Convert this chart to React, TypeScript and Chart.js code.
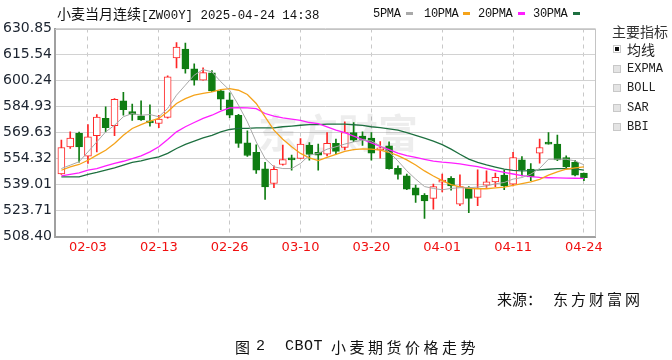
import React, { useEffect, useRef } from 'react';
import { Chart, registerables } from 'chart.js';

Chart.register(...registerables);

// ---------- data ----------
const dates = [
  '01-29', '01-30', '01-31', '02-03', '02-04', '02-05', '02-06', '02-07', '02-10', '02-11',
  '02-12', '02-13', '02-14', '02-18', '02-19', '02-20', '02-21', '02-24', '02-25', '02-26',
  '02-27', '02-28', '03-03', '03-04', '03-05', '03-06', '03-07', '03-10', '03-11', '03-12',
  '03-13', '03-14', '03-17', '03-18', '03-19', '03-20', '03-21', '03-24', '03-25', '03-26',
  '03-27', '03-28', '03-31', '04-01', '04-02', '04-03', '04-04', '04-07', '04-08', '04-09',
  '04-10', '04-11', '04-14', '04-15', '04-16', '04-17', '04-21', '04-22', '04-23', '04-24',
];
const tickDates = ['02-03', '02-13', '02-26', '03-10', '03-20', '04-01', '04-11', '04-24'];
const yTickLabels = ['508.40', '523.71', '539.01', '554.32', '569.63', '584.93', '600.24', '615.54', '630.85'];

const openP = [
  545.3, 561.2, 569.2, 555.7, 567.7, 577.9, 573.6, 588.3, 582.0, 579.4,
  576.5, 574.9, 578.5, 613.6, 618.7, 607.1, 600.4, 604.8, 594.2, 588.9,
  579.8, 563.5, 557.9, 548.2, 539.6, 550.8, 554.3, 554.3, 562.2, 557.9,
  556.9, 563.2, 560.8, 569.6, 567.5, 566.3, 559.4, 561.8, 548.6, 544.1,
  537.1, 532.7, 530.8, 540.4, 542.6, 527.4, 537.3, 531.4, 538.6, 540.6,
  544.5, 539.2, 553.5, 548.1, 557.5, 563.2, 562.8, 554.9, 552.0, 545.7,
];
const closeP = [
  560.8, 566.3, 561.2, 567.1, 578.7, 572.4, 589.1, 583.0, 580.2, 577.1,
  575.3, 577.5, 602.4, 619.9, 607.1, 600.4, 604.9, 594.2, 589.3, 579.8,
  563.2, 556.1, 547.5, 537.6, 547.9, 553.7, 553.5, 562.8, 556.7, 556.3,
  563.2, 558.5, 569.6, 565.1, 565.5, 557.5, 560.2, 548.4, 544.9, 536.3,
  532.7, 529.4, 537.8, 541.2, 538.2, 537.8, 530.8, 536.7, 540.6, 543.3,
  538.2, 554.9, 547.7, 543.5, 560.8, 562.8, 553.5, 549.4, 544.5, 543.1,
];
const highP = [
  565.1, 570.0, 569.8, 574.3, 580.2, 584.7, 589.6, 593.2, 586.3, 588.3,
  585.9, 579.8, 603.0, 622.6, 622.2, 610.1, 607.7, 606.1, 594.9, 593.0,
  580.3, 570.6, 562.4, 552.0, 550.0, 562.2, 556.3, 566.1, 563.7, 562.8,
  569.6, 565.7, 575.9, 575.5, 570.0, 569.6, 564.3, 564.1, 550.0, 545.1,
  538.6, 533.7, 539.2, 545.1, 543.7, 544.7, 537.8, 547.7, 547.1, 545.7,
  547.5, 557.9, 555.5, 551.4, 565.7, 569.6, 568.1, 555.9, 553.3, 545.7,
];
const lowP = [
  544.9, 560.2, 552.2, 551.4, 558.2, 570.0, 567.7, 579.8, 576.7, 576.7,
  573.4, 572.4, 578.1, 607.7, 604.6, 597.5, 600.4, 593.6, 583.0, 578.3,
  560.8, 555.5, 545.5, 530.2, 537.1, 550.4, 547.5, 554.3, 553.3, 547.5,
  555.9, 556.9, 559.4, 564.3, 562.0, 553.3, 554.5, 548.1, 542.2, 535.9,
  528.4, 519.0, 524.5, 534.7, 535.7, 526.5, 522.5, 526.5, 537.3, 537.8,
  535.9, 538.2, 544.1, 541.2, 551.6, 562.8, 553.0, 548.1, 544.1, 541.2,
];

const ma5 = [
  548.4, 550.4, 552.4, 558.2, 564.1, 570.0, 573.9, 578.9, 580.8, 579.8,
  580.2, 578.9, 583.8, 591.6, 597.5, 603.4, 606.7, 605.3, 599.5, 594.5,
  585.7, 575.9, 564.1, 554.3, 549.4, 548.4, 548.4, 551.4, 556.3, 557.3,
  559.8, 561.2, 562.8, 564.1, 565.1, 564.7, 561.8, 558.2, 552.9, 547.1,
  542.2, 537.8, 536.7, 535.9, 536.7, 537.1, 537.1, 537.5, 538.2, 539.4,
  540.2, 542.2, 543.1, 545.1, 548.5, 553.9, 553.9, 553.9, 552.9, 550.6,
];
const ma10 = [
  547.4, 549.4, 550.8, 553.3, 556.3, 559.2, 563.2, 568.0, 572.0, 574.3,
  576.3, 577.9, 581.8, 586.7, 589.6, 591.6, 592.6, 593.6, 594.9, 595.5,
  594.5, 592.0, 586.7, 578.8, 571.0, 565.7, 561.2, 557.3, 554.7, 553.1,
  555.0, 556.8, 558.5, 559.6, 560.0, 559.8, 559.3, 558.0, 556.0, 553.5,
  550.5, 547.0, 544.0, 541.3, 539.0, 537.6, 536.8, 536.5, 536.5, 537.0,
  537.5, 538.5, 539.5, 540.5, 542.0, 544.5, 546.5, 548.0, 548.8, 549.4,
];
const ma20 = [
  544.1, 545.0, 545.9, 547.5, 548.4, 550.0, 551.4, 552.7, 554.3, 555.9,
  558.2, 561.2, 565.5, 570.0, 573.0, 575.5, 577.9, 579.8, 582.2, 584.1,
  584.3, 584.1, 583.7, 580.8, 579.2, 578.2, 577.5, 576.7, 575.5, 574.9,
  573.0, 571.0, 569.5, 567.5, 565.5, 563.5, 561.5, 559.5, 557.5, 556.0,
  555.0, 553.8, 552.8, 552.2, 551.8, 551.2, 550.3, 549.5, 548.3, 547.2,
  546.1, 545.2, 544.2, 543.6, 543.2, 543.0, 542.9, 542.8, 542.7, 542.6,
];
const ma30 = [
  543.5, 543.5, 543.5, 545.0, 546.1, 547.5, 548.8, 550.4, 552.0, 552.9,
  554.3, 555.3, 557.3, 560.2, 562.6, 564.5, 566.5, 568.0, 570.0, 571.4,
  572.0, 572.0, 572.4, 572.4, 572.4, 573.0, 573.4, 573.9, 574.3, 574.3,
  574.5, 574.6, 574.5, 574.2, 573.8, 573.0, 572.5, 571.8, 571.0, 569.5,
  568.0, 566.3, 564.5, 562.5, 559.8, 556.8, 554.0, 552.0, 550.5, 549.3,
  548.0, 547.3, 547.0, 547.2, 547.6, 548.0, 548.3, 548.4, 548.2, 547.5,
];

const maNames = ['5PMA', '10PMA', '20PMA', '30PMA'];
const maColors = ['#a9a9a9', '#f5a31a', '#ff1eff', '#1e7040'];
const maSeries = [ma5, ma10, ma20, ma30];

const indicatorItems = ['均线', 'EXPMA', 'BOLL', 'SAR', 'BBI'];

const RED = '#ff2626';
const GREEN = '#0f7d12';
const CJK = '"Noto Sans CJK SC", sans-serif';
const MONO = '"Liberation Mono", "DejaVu Sans Mono", monospace';

export default function App() {
  const canvasRef = useRef<HTMLCanvasElement | null>(null);

  useEffect(() => {
    document.body.style.margin = '0';
    const canvas = canvasRef.current;
    if (!canvas) return;
    const up = closeP.map((c, i) => c >= openP[i]);

    const frame = {
      id: 'frame',
      beforeDatasetsDraw(chart: any) {
        const { ctx, chartArea } = chart;
        ctx.save();
        // watermark
        ctx.font = 'bold 40px "Noto Sans CJK SC"';
        ctx.fillStyle = 'rgba(0,0,0,0.07)';
        ctx.textBaseline = 'alphabetic';
        ctx.fillText('东方财富', 258, 148);
        // top & right borders
        ctx.strokeStyle = '#c4c4c4';
        ctx.lineWidth = 1;
        ctx.beginPath();
        ctx.moveTo(chartArea.left, Math.round(chartArea.top) + 0.5);
        ctx.lineTo(chartArea.right, Math.round(chartArea.top) + 0.5);
        ctx.moveTo(Math.round(chartArea.right) + 0.5, chartArea.top);
        ctx.lineTo(Math.round(chartArea.right) + 0.5, chartArea.bottom);
        ctx.stroke();
        ctx.restore();
      },
    };

    const lineSets = maSeries.map((arr, k) => ({
      type: 'line' as const,
      data: arr.map((v, i) => ({ x: i, y: v })),
      borderColor: maColors[k],
      borderWidth: k === 0 ? 1 : 1.3,
      pointRadius: 0,
      tension: 0,
      fill: false,
      order: 0,
    }));

    const chart = new Chart(canvas, {
      type: 'bar',
      data: {
        datasets: [
          ...lineSets,
          {
            type: 'bar',
            data: dates.map((_, i) => ({ x: i, y: [openP[i], closeP[i]] })) as any,
            backgroundColor: up.map((u) => (u ? '#ffffff' : GREEN)),
            borderColor: up.map((u) => (u ? RED : GREEN)),
            borderWidth: 1,
            borderSkipped: false,
            barThickness: 7,
            minBarLength: 2,
            grouped: false,
            order: 1,
          } as any,
          {
            type: 'bar',
            data: dates.map((_, i) => ({ x: i, y: [lowP[i], highP[i]] })) as any,
            backgroundColor: up.map((u) => (u ? RED : GREEN)),
            borderWidth: 0,
            barThickness: 1,
            grouped: false,
            order: 2,
          } as any,
        ],
      },
      options: {
        animation: false,
        responsive: false,
        maintainAspectRatio: false,
        events: [],
        layout: { padding: { left: 0, top: 28.5, right: 77, bottom: 103.5 } },
        plugins: { legend: { display: false }, tooltip: { enabled: false }, title: { display: false } },
        scales: {
          x: {
            type: 'linear',
            offset: false,
            min: -0.72,
            max: 60.25,
            afterBuildTicks: (scale: any) => {
              scale.ticks = tickDates.map((d) => ({ value: dates.indexOf(d) }));
            },
            afterFit: (scale: any) => {
              scale.height = 20;
            },
            ticks: {
              autoSkip: false,
              maxRotation: 0,
              padding: 3,
              color: '#f01010',
              font: { family: 'DejaVu Sans', size: 13 },
              callback: (v: any) => dates[Math.round(Number(v))] ?? '',
            },
            grid: { color: '#c8c8c8', lineWidth: 1, drawTicks: false, offset: false },
            border: { display: true, color: '#a0a0a0', width: 2, dash: [4, 4] },
          },
          y: {
            type: 'linear',
            min: 508.4,
            max: 630.85,
            afterBuildTicks: (scale: any) => {
              scale.ticks = yTickLabels.map((s) => ({ value: parseFloat(s) }));
            },
            afterFit: (scale: any) => {
              scale.width = 55;
            },
            ticks: {
              padding: 3,
              color: '#1c2430',
              font: { family: 'DejaVu Sans', size: 14 },
              callback: (v: any) => {
                const hit = yTickLabels.find((s) => Math.abs(parseFloat(s) - Number(v)) < 0.01);
                return hit ?? '';
              },
            },
            grid: { color: '#d2d2d2', lineWidth: 1, drawTicks: false },
            border: { display: true, color: '#a0a0a0', width: 2 },
          },
        },
      } as any,
      plugins: [frame],
    });
    return () => chart.destroy();
  }, []);

  const legendLeft = [373, 424, 478, 533];
  const legendDash = [406, 463, 518, 573];

  return (
    <div style={{ position: 'fixed', left: 0, top: 0, width: 672, height: 360, background: '#fff', overflow: 'hidden' }}>
      <canvas ref={canvasRef} width={672} height={360} style={{ position: 'absolute', left: 0, top: 0, width: 672, height: 360 }} />
      {/* title */}
      <div style={{ position: 'absolute', left: 57, top: 4, fontSize: 14, lineHeight: '18px', color: '#111', whiteSpace: 'nowrap' }}>
        <span style={{ fontFamily: CJK }}>小麦当月连续</span>
        <span style={{ fontFamily: MONO, fontSize: 12.4 }}>[ZW00Y] 2025-04-24 14:38</span>
      </div>
      {/* legend */}
      {maNames.map((n, k) => (
        <React.Fragment key={n}>
          <div style={{ position: 'absolute', left: legendLeft[k], top: 6, fontFamily: MONO, fontSize: 12, lineHeight: '16px', color: '#111', whiteSpace: 'nowrap', letterSpacing: -0.3 }}>{n}</div>
          <div style={{ position: 'absolute', left: legendDash[k], top: 12, width: 7, height: 3, background: maColors[k] }} />
        </React.Fragment>
      ))}
      {/* right panel */}
      <div style={{ position: 'absolute', left: 612, top: 22, fontFamily: CJK, fontSize: 14, lineHeight: '18px', color: '#333', whiteSpace: 'nowrap' }}>主要指标</div>
      {indicatorItems.map((t, k) => {
        const cy = [49, 69, 88, 108, 127][k];
        return (
          <React.Fragment key={t}>
            <div style={{ position: 'absolute', left: 613, top: cy - 4, width: 8, height: 8, boxSizing: 'border-box', border: '1px solid #c8c8c8', background: k === 0 ? '#fff' : '#e4e4e4' }}>
              {k === 0 ? <div style={{ position: 'absolute', left: 1, top: 1, width: 4, height: 4, background: '#111' }} /> : null}
            </div>
            <div style={{ position: 'absolute', left: 627, top: cy - 9, fontFamily: k === 0 ? CJK : MONO, fontSize: k === 0 ? 14 : 12, lineHeight: '18px', color: '#222', whiteSpace: 'nowrap' }}>{t}</div>
          </React.Fragment>
        );
      })}
      {/* source */}
      <div style={{ position: 'absolute', left: 497, top: 289, fontFamily: CJK, fontSize: 15, lineHeight: '20px', color: '#111', whiteSpace: 'nowrap' }}>来源：</div>
      <div style={{ position: 'absolute', left: 553, top: 289, fontFamily: CJK, fontSize: 15, lineHeight: '20px', color: '#111', whiteSpace: 'nowrap', letterSpacing: 3 }}>东方财富网</div>
      {/* caption */}
      <div style={{ position: 'absolute', left: 235, top: 337, fontFamily: CJK, fontSize: 15, lineHeight: '20px', color: '#111', whiteSpace: 'nowrap' }}>图</div>
      <div style={{ position: 'absolute', left: 256, top: 337, fontFamily: MONO, fontSize: 15, lineHeight: '20px', color: '#111', whiteSpace: 'nowrap' }}>2</div>
      <div style={{ position: 'absolute', left: 285, top: 337, fontFamily: MONO, fontSize: 15, lineHeight: '20px', color: '#111', whiteSpace: 'nowrap', letterSpacing: 0.5 }}>CBOT</div>
      <div style={{ position: 'absolute', left: 331, top: 337, fontFamily: CJK, fontSize: 15, lineHeight: '20px', color: '#111', whiteSpace: 'nowrap', letterSpacing: 3.5 }}>小麦期货价格走势</div>
    </div>
  );
}
